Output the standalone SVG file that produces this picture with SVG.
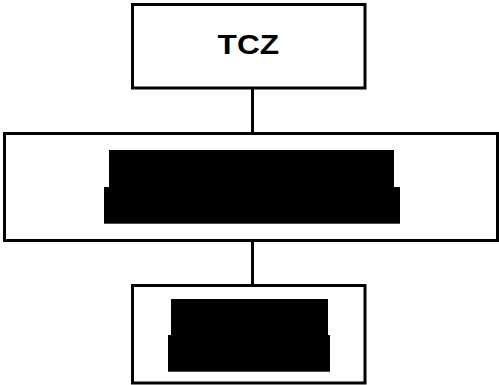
<svg xmlns="http://www.w3.org/2000/svg" width="499" height="385" viewBox="0 0 499 385">
<style>
.box{fill:#fff;stroke:#000;stroke-width:3}
.blk{fill:#000;stroke:none}
.lbl{font-family:"Liberation Sans",Arial,sans-serif;font-weight:bold;font-size:27.5px;fill:#000}
.edge{stroke:#000;stroke-width:3;fill:none}
</style>
<rect width="499" height="385" fill="#fff"/>
<g id="connectors">
<line class="edge" x1="252.5" y1="89" x2="252.5" y2="133"/>
<line class="edge" x1="252.5" y1="241" x2="252.5" y2="285"/>
</g>
<g id="node-tcz">
<rect class="box" x="132.5" y="4.5" width="232.5" height="83.5"/>
<text class="lbl" text-anchor="middle" transform="translate(248.3,54.3) scale(1.15,1)" x="0" y="0">TCZ</text>
</g>
<g id="node-middle">
<rect class="box" x="4.5" y="133.5" width="493" height="107"/>
<rect class="blk" x="109" y="150" width="285" height="37.5"/>
<rect class="blk" x="104" y="187" width="296" height="36.7"/>
</g>
<g id="node-bottom">
<rect class="box" x="132.5" y="285.5" width="232.5" height="97.5"/>
<rect class="blk" x="171" y="299" width="157" height="36.5"/>
<rect class="blk" x="168" y="335" width="162" height="36.7"/>
</g>
</svg>
